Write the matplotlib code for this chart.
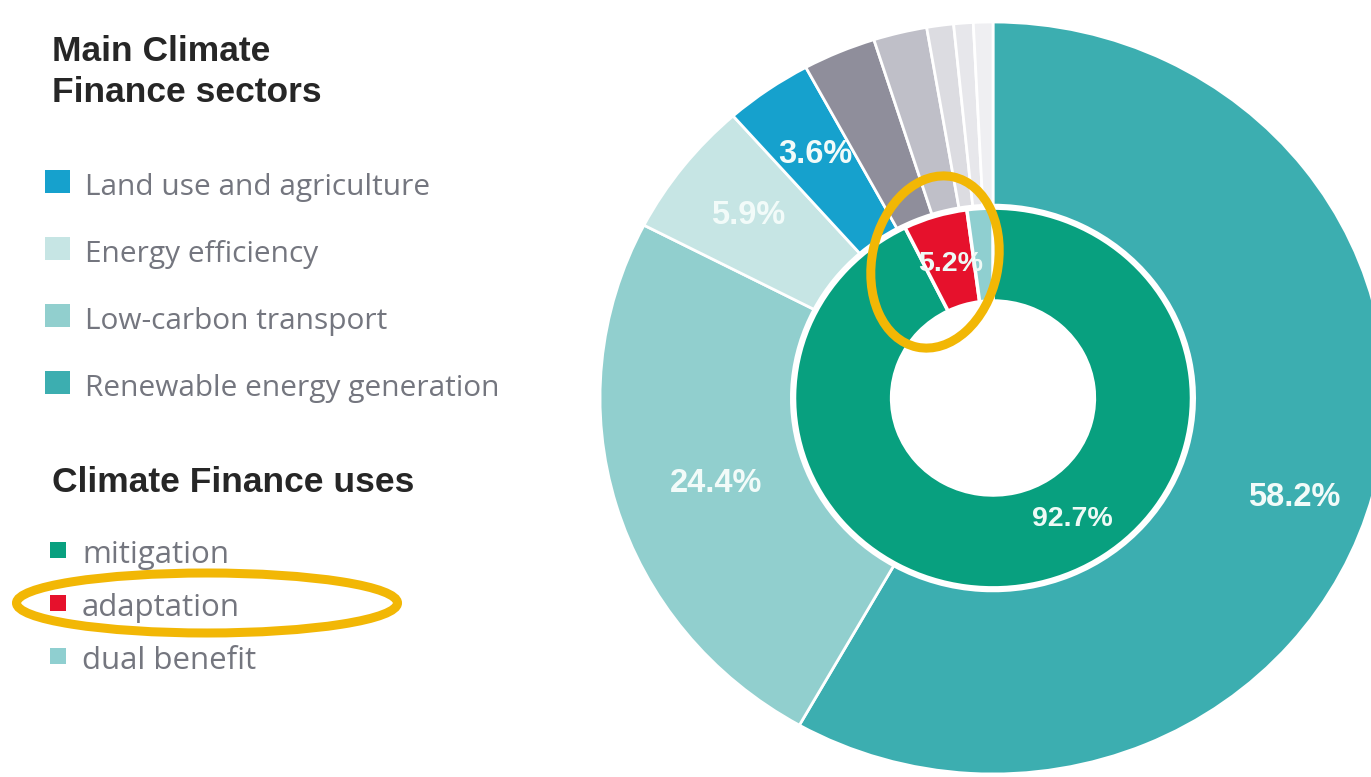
import numpy as np
import matplotlib.pyplot as plt
from matplotlib.patches import Ellipse, Rectangle

# outer ring: sectors, clockwise from 12 o'clock
sector_names = ['Renewable energy generation', 'Low-carbon transport', 'Energy efficiency',
                'Land use and agriculture', 'other 1', 'other 2', 'other 3', 'other 4', 'other 5']
sector_values = [58.2, 24.4, 5.9, 3.6, 3.0, 2.2, 1.1, 0.8, 0.8]
sector_colors = ['#3caeb0', '#91cfce', '#c6e5e4', '#16a1cd', '#8f8e9b', '#bfbfc8',
                 '#dcdce1', '#e7e7eb', '#efeff2']
sector_legend = ['Land use and agriculture', 'Energy efficiency', 'Low-carbon transport',
                 'Renewable energy generation']

# inner ring: uses
use_names = ['mitigation', 'adaptation', 'dual benefit']
use_values = [92.7, 5.2, 2.1]
use_colors = ['#08a07f', '#e6112c', '#8fcfd0']

W, H = 1371, 777
fig = plt.figure(figsize=(W / 100, H / 100), dpi=100)

# pie axes, one data unit = outer radius (picture is a little stretched sideways)
cx, cy, rx, ry = 993, 398, 393, 376
ax = fig.add_axes([0, 0, 1, 1])


def outer_pct(p):
    return '%.1f%%' % p if p > 3.5 else ''


def inner_pct(p):
    return '%.1f%%' % p if p > 3 else ''


def polar(r, deg):
    a = np.deg2rad(deg)
    return r * np.cos(a), r * np.sin(a)


w1, t1, a1 = ax.pie(sector_values, radius=1.0, startangle=90, counterclock=False,
                    colors=sector_colors, autopct=outer_pct, pctdistance=0.79,
                    wedgeprops=dict(width=0.487, edgecolor='white', linewidth=2),
                    textprops=dict(color='#f2fbf9', fontsize=23.5, fontweight='bold',
                                   family='Liberation Sans'))
w2, t2, a2 = ax.pie(use_values, radius=0.505, startangle=90, counterclock=False,
                    colors=use_colors, autopct=inner_pct, pctdistance=0.74,
                    wedgeprops=dict(width=0.247, edgecolor='white', linewidth=2.5),
                    textprops=dict(color='#eefaf6', fontsize=20.5, fontweight='bold',
                                   family='Liberation Sans'))
# move some labels like in the original
a1[0].set_position(polar(0.81, -19))
a1[1].set_position(polar(0.74, 198))
a2[0].set_position(polar(0.38, -58))

ax.set_aspect('auto')
ax.set_xlim(-cx / rx, (W - cx) / rx)
ax.set_ylim(-(H - cy) / ry, cy / ry)
ax.axis('off')

# overlay in pixel coordinates for legend and highlights
ov = fig.add_axes([0, 0, 1, 1])
ov.set_xlim(0, W)
ov.set_ylim(H, 0)
ov.axis('off')
ov.patch.set_alpha(0)

head_kw = dict(fontsize=25.5, fontweight='bold', color='#262626', family='Liberation Sans',
               va='baseline', ha='left')
ov.text(52, 61, 'Main Climate', **head_kw)
ov.text(52, 102, 'Finance sectors', **head_kw)
ov.text(52, 492, 'Climate Finance uses', **head_kw)

col_of = dict(zip(sector_names, sector_colors))
for i, name in enumerate(sector_legend):
    y = 195 + i * 67
    ov.add_patch(Rectangle((45, y - 25), 25, 23, color=col_of[name], lw=0))
    ov.text(85, y, name, fontsize=21.5, color='#74767f', family='Open Sans',
            va='baseline', ha='left')

for i, (name, c) in enumerate(zip(use_names, use_colors)):
    y = 563 + i * 53
    ov.add_patch(Rectangle((50, y - 21), 16, 16, color=c, lw=0))
    ov.text(82, y, name, fontsize=22.5, color='#74767f', family='Open Sans',
            va='baseline', ha='left')

yellow = '#f2b705'
ov.add_patch(Ellipse((207, 603), 381, 60, angle=0, fill=False, ec=yellow, lw=6.5))
ov.add_patch(Ellipse((935, 262), 126, 174, angle=12, fill=False, ec=yellow, lw=6.5))

fig.savefig('out.png', dpi=100)
